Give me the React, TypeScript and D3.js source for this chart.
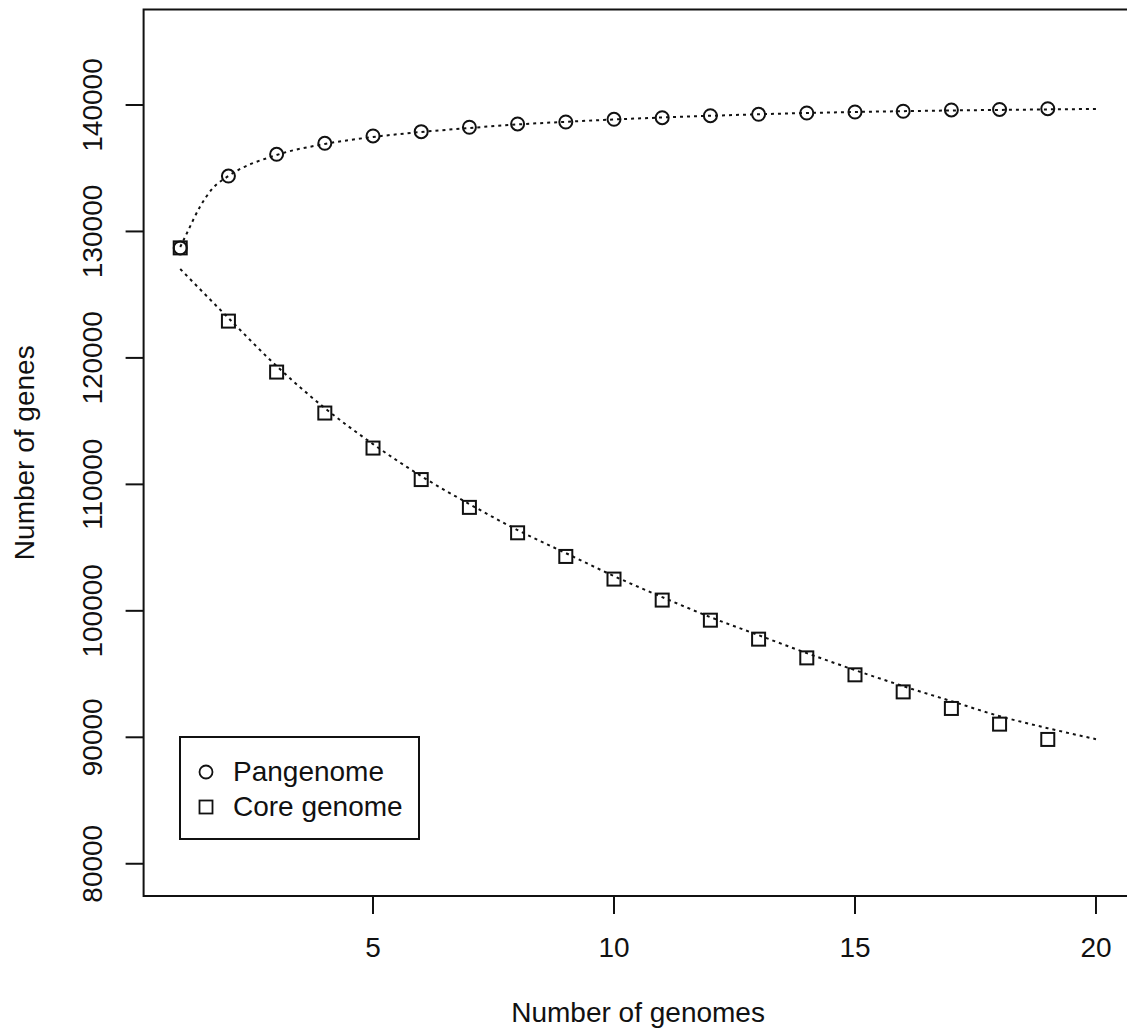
import React from "react";
import * as d3 from "d3";

const genomes = [1, 2, 3, 4, 5, 6, 7, 8, 9, 10, 11, 12, 13, 14, 15, 16, 17, 18, 19];
const pangenome = [128700, 134380, 136100, 136970, 137550, 137890, 138240, 138500, 138655, 138870, 138995, 139150, 139265, 139365, 139445, 139505, 139605, 139645, 139705];
const coreGenome = [128700, 122910, 118880, 115640, 112870, 110380, 108180, 106170, 104300, 102510, 100850, 99260, 97760, 96280, 94940, 93590, 92280, 91040, 89830];

const panFitX = [1, 1.14, 1.41, 1.68, 2, 3, 4, 5, 6, 7, 8, 9, 10, 11, 12, 13, 14, 15, 16, 17, 18, 19, 20];
const panFitY = [128770, 129875, 131955, 133435, 134385, 136045, 136915, 137470, 137865, 138180, 138460, 138670, 138855, 139010, 139145, 139265, 139365, 139445, 139510, 139565, 139610, 139650, 139685];
const coreFitX = [1, 2, 3, 4, 5, 6, 7, 8, 9, 10, 11, 12, 13, 14, 15, 16, 17, 18, 19, 20];
const coreFitY = [127030, 123150, 119355, 116030, 113185, 110655, 108440, 106385, 104565, 102745, 101085, 99500, 98075, 96655, 95310, 94045, 92855, 91670, 90720, 89850];

const xTicks = [5, 10, 15, 20];
const yTicks = [80000, 90000, 100000, 110000, 120000, 130000, 140000];
const legendLabels = ["Pangenome", "Core genome"];

const W = 1127;
const H = 1032;
const FONT = "'Liberation Sans', Arial, Helvetica, sans-serif";

export default function App() {
  const x = d3.scaleLinear().domain([0.24, 20.76]).range([143.6, 1132.6]);
  const y = d3.scaleLinear().domain([77450, 147550]).range([896, 9.5]);

  const left = x(0.24);
  const right = x(20.76);
  const top = y(147550);
  const bottom = y(77450);

  const line = d3
    .line<[number, number]>()
    .x((d) => x(d[0]))
    .y((d) => y(d[1]))
    .curve(d3.curveMonotoneX);

  const panPath = line(panFitX.map((v, i) => [v, panFitY[i]]) as [number, number][]) || "";
  const corePath = line(coreFitX.map((v, i) => [v, coreFitY[i]]) as [number, number][]) || "";

  const sq = 13;
  const r = 6.5;

  return (
    <svg
      width={W}
      height={H}
      style={{ position: "absolute", left: 0, top: 0, background: "#fff" }}
      fontFamily={FONT}
    >
      <rect x={0} y={0} width={W} height={H} fill="#fff" />
      {/* plot box */}
      <rect
        x={left}
        y={top}
        width={right - left}
        height={bottom - top}
        fill="none"
        stroke="#111"
        strokeWidth={2}
      />
      {/* fitted curves */}
      <path d={panPath} fill="none" stroke="#111" strokeWidth={2} strokeDasharray="3,4" />
      <path d={corePath} fill="none" stroke="#111" strokeWidth={2} strokeDasharray="3,4" />
      {/* core points */}
      {genomes.map((g, i) => (
        <rect
          key={"c" + i}
          x={x(g) - sq / 2}
          y={y(coreGenome[i]) - sq / 2}
          width={sq}
          height={sq}
          fill="none"
          stroke="#111"
          strokeWidth={2}
        />
      ))}
      {/* pan points */}
      {genomes.map((g, i) => (
        <circle
          key={"p" + i}
          cx={x(g)}
          cy={y(pangenome[i])}
          r={r}
          fill="none"
          stroke="#111"
          strokeWidth={2}
        />
      ))}
      {/* x axis */}
      {xTicks.map((t) => (
        <g key={"xt" + t}>
          <line x1={x(t)} x2={x(t)} y1={bottom} y2={bottom + 18} stroke="#111" strokeWidth={2} />
          <text x={x(t)} y={957} textAnchor="middle" fontSize={28} fill="#111">
            {t}
          </text>
        </g>
      ))}
      {/* y axis */}
      {yTicks.map((t) => (
        <g key={"yt" + t}>
          <line x1={left - 18} x2={left} y1={y(t)} y2={y(t)} stroke="#111" strokeWidth={2} />
          <text
            transform={`translate(102,${y(t)}) rotate(-90)`}
            textAnchor="middle"
            fontSize={28}
            fill="#111"
          >
            {t}
          </text>
        </g>
      ))}
      <text x={(left + right) / 2} y={1022} textAnchor="middle" fontSize={28} fill="#111">
        Number of genomes
      </text>
      <text
        transform={`translate(34,${(top + bottom) / 2}) rotate(-90)`}
        textAnchor="middle"
        fontSize={28}
        fill="#111"
      >
        Number of genes
      </text>
      {/* legend */}
      <rect x={180} y={737} width={239} height={102} fill="#fff" stroke="#111" strokeWidth={2} />
      <circle cx={206} cy={772} r={6.5} fill="none" stroke="#111" strokeWidth={1.8} />
      <rect x={199.5} y={800.5} width={13} height={13} fill="none" stroke="#111" strokeWidth={1.8} />
      <text x={233} y={781} fontSize={28} fill="#111">
        {legendLabels[0]}
      </text>
      <text x={233} y={816} fontSize={28} fill="#111">
        {legendLabels[1]}
      </text>
    </svg>
  );
}
